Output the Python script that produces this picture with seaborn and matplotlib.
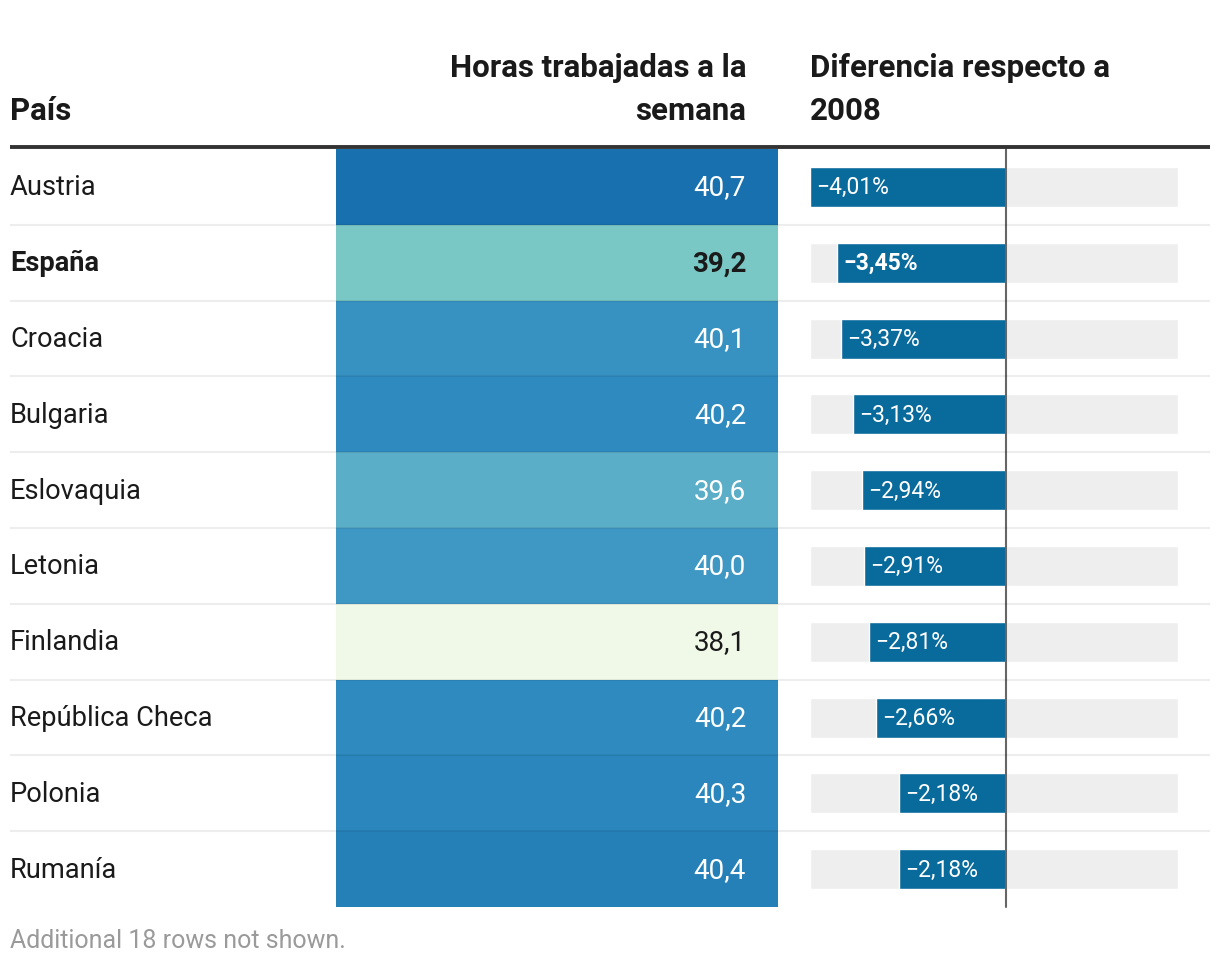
import numpy as np
import matplotlib
matplotlib.use("Agg")
import matplotlib.pyplot as plt
import matplotlib.transforms as mtransforms
from matplotlib.colors import LinearSegmentedColormap
import seaborn as sns

countries = ["Austria", "España", "Croacia", "Bulgaria", "Eslovaquia", "Letonia",
             "Finlandia", "República Checa", "Polonia", "Rumanía"]
hours = [40.7, 39.2, 40.1, 40.2, 39.6, 40.0, 38.1, 40.2, 40.3, 40.4]
diff = [-4.01, -3.45, -3.37, -3.13, -2.94, -2.91, -2.81, -2.66, -2.18, -2.18]
highlight = "España"
footer = "Additional 18 rows not shown."
header_country = "País"
header_hours = ["Horas trabajadas a la", "semana"]
header_diff = ["Diferencia respecto a", "2008"]

sns.set_theme(style="white")
plt.rcParams["font.family"] = ["Roboto", "DejaVu Sans"]

W, H = 1220, 970
fig = plt.figure(figsize=(W / 100, H / 100), dpi=100)
fig.patch.set_facecolor("white")

def fr(x, y, w, h):
    return [x / W, 1 - (y + h) / H, w / W, h / H]

top, bottom = 150, 908
n = len(countries)
row_h = (bottom - top) / n
BODY = 19.6

# heat column
hax = fig.add_axes(fr(336, top, 442, bottom - top))
cmap = LinearSegmentedColormap.from_list(
    "hrs",
    [(0.0, "#f0f8e8"), (0.423, "#79c8c5"), (0.577, "#5aaec8"), (0.731, "#3f98c3"),
     (0.808, "#2f8bbf"), (1.0, "#1870ae")])
sns.heatmap(np.array(hours).reshape(-1, 1), ax=hax, cmap=cmap, vmin=38.1, vmax=40.7,
            cbar=False, annot=False, xticklabels=False, yticklabels=False,
            linewidths=0)
hax.set_xlabel("")
hax.set_ylabel("")
for i, (c, v) in enumerate(zip(countries, hours)):
    t = (v - 38.1) / (40.7 - 38.1)
    dark = t < 0.5
    hax.text(1 - 32 / 442, i + 0.5, f"{v:.1f}".replace(".", ","),
             ha="right", va="center", fontsize=20,
             color="#1a1a1a" if dark else "white",
             fontweight="bold" if c == highlight else "normal")

# country labels
blend = mtransforms.blended_transform_factory(fig.transFigure, hax.transData)
for i, c in enumerate(countries):
    hax.text(10 / W, i + 0.5, c, transform=blend, ha="left", va="center",
             fontsize=BODY, color="#1a1a1a",
             fontweight="bold" if c == highlight else "normal", clip_on=False)

# bar column
bax = fig.add_axes(fr(810, top, 368, bottom - top))
xmin, xmax = -4.01, 3.52
bax.barh(range(n), [xmax - xmin] * n, left=xmin, height=40 / row_h,
         color="#eeeeee", zorder=0)
sns.barplot(x=diff, y=list(range(n)), orient="h", ax=bax, color="#096a9c",
            width=40 / row_h, saturation=1, zorder=2)
bax.set_xlim(xmin, xmax)
bax.set_ylim(n - 0.5, -0.5)
bax.axvline(0, color="#666666", lw=1.5, zorder=3, clip_on=False)
bax.axis("off")
off = mtransforms.offset_copy(bax.transData, fig=fig, x=6, y=0, units="dots")
for i, (c, d) in enumerate(zip(countries, diff)):
    bax.text(d, i, f"{d:.2f}%".replace(".", ",").replace("-", "\u2212"),
             transform=off, ha="left", va="center", fontsize=16.5, color="white",
             fontweight="bold" if c == highlight else "normal", zorder=4)

# overlay for rules and headers
ov = fig.add_axes([0, 0, 1, 1], zorder=10)
ov.set_xlim(0, W)
ov.set_ylim(H, 0)
ov.axis("off")
ov.patch.set_alpha(0)
ov.plot([10, 1210], [148, 148], color="#333333", lw=2.8, solid_capstyle="butt")
for k in range(1, n):
    y = top + row_h * k
    ov.plot([10, 1210], [y, y], color="black", alpha=0.07, lw=1.5,
            solid_capstyle="butt")

hdr = dict(fontsize=22.5, fontweight="bold", color="#1a1a1a", va="baseline")
ov.text(10, 120, header_country, ha="left", **hdr)
for j, line in enumerate(header_hours):
    ov.text(746, 77 + 43 * j, line, ha="right", **hdr)
for j, line in enumerate(header_diff):
    ov.text(810, 77 + 43 * j, line, ha="left", **hdr)
ov.text(10, 948, footer, ha="left", va="baseline", fontsize=18, color="#9a9a9a")

fig.savefig("out.png", dpi=100, facecolor="white")
